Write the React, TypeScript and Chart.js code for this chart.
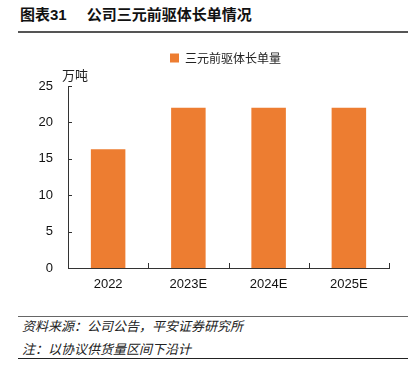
import React, { useEffect, useRef } from "react";
import { Chart, registerables } from "chart.js";

Chart.register(...registerables);

const categories = ["2022", "2023E", "2024E", "2025E"];
const seriesName = "三元前驱体长单量";
const values = [16.3, 22, 22, 22];
const yTicks = [0, 5, 10, 15, 20, 25];
const unitLabel = "万吨";
const titleNo = "图表31";
const titleText = "公司三元前驱体长单情况";
const sourceText = "资料来源：公司公告，平安证券研究所";
const noteText = "注：以协议供货量区间下沿计";

const ORANGE = "#ED7D31";
const AXIS = "#333333";
const FONT = "'Liberation Sans', Arial, 'Noto Sans CJK SC', sans-serif";

const extras = {
  id: "extras",
  afterInit(chart: any) {
    const lg = chart.legend;
    if (lg && !lg.__patched) {
      const origFit = lg.fit.bind(lg);
      lg.fit = function () {
        origFit();
        this.height += 12;
      };
      const origDraw = lg.draw.bind(lg);
      lg.draw = function () {
        const c = this.ctx;
        c.save();
        c.translate(31, 0);
        origDraw();
        c.restore();
      };
      lg.__patched = true;
    }
  },
  afterDraw(chart: any) {
    const { ctx, chartArea } = chart;
    const xs = chart.scales.x;
    const ys = chart.scales.y;
    ctx.save();
    ctx.strokeStyle = AXIS;
    ctx.lineWidth = 1;
    for (const v of yTicks) {
      const y = Math.round(ys.getPixelForValue(v)) + 0.5;
      ctx.beginPath();
      ctx.moveTo(chartArea.left, y);
      ctx.lineTo(chartArea.left + 4, y);
      ctx.stroke();
    }
    for (let i = 0; i <= categories.length; i++) {
      const x = Math.round(xs.getPixelForValue(i - 0.5)) + 0.5;
      ctx.beginPath();
      ctx.moveTo(x, chartArea.bottom);
      ctx.lineTo(x, chartArea.bottom - 5);
      ctx.stroke();
    }
    ctx.fillStyle = "#222";
    ctx.font = "13px 'Noto Sans CJK SC', sans-serif";
    ctx.textAlign = "left";
    ctx.textBaseline = "middle";
    ctx.fillText(unitLabel, chartArea.left - 6, chartArea.top - 11);
    ctx.restore();
  },
};

export default function App() {
  const ref = useRef<HTMLCanvasElement>(null);
  useEffect(() => {
    if (!ref.current) return;
    const chart = new Chart(ref.current, {
      type: "bar",
      data: {
        labels: categories,
        datasets: [
          {
            label: seriesName,
            data: values,
            backgroundColor: ORANGE,
            borderWidth: 0,
            categoryPercentage: 1,
            barPercentage: 0.43,
          },
        ],
      },
      options: {
        animation: false,
        responsive: false,
        maintainAspectRatio: false,
        layout: { padding: { left: 0, right: 28, top: 0, bottom: 0 } },
        plugins: {
          tooltip: { enabled: false },
          legend: {
            display: true,
            position: "top",
            labels: {
              boxWidth: 9,
              boxHeight: 9,
              color: "#222",
              padding: 19,
              font: { size: 12, family: "'Noto Sans CJK SC', sans-serif" },
            },
          },
        },
        scales: {
          x: {
            grid: { display: false, drawTicks: false },
            border: { display: true, color: AXIS, width: 1 },
            ticks: {
              color: "#111",
              padding: 9,
              font: { size: 13, family: FONT },
            },
            afterFit: (s: any) => {
              s.height = 32;
            },
          },
          y: {
            min: 0,
            max: 25,
            grid: { display: false, drawTicks: false },
            border: { display: true, color: AXIS, width: 1 },
            ticks: {
              stepSize: 5,
              color: "#111",
              padding: 15,
              font: { size: 13, family: FONT },
            },
            afterFit: (s: any) => {
              s.width = 68;
            },
          },
        },
      },
      plugins: [extras],
    });
    return () => chart.destroy();
  }, []);

  return (
    <div
      style={{
        position: "fixed",
        left: 0,
        top: 0,
        width: 417,
        height: 367,
        background: "#fff",
        fontFamily: "'Noto Sans CJK SC', sans-serif",
      }}
    >
      <div
        style={{
          position: "absolute",
          left: 20,
          top: 4,
          fontSize: 15,
          fontWeight: "bold",
          color: "#111",
          lineHeight: "20px",
          whiteSpace: "nowrap",
        }}
      >
        <span style={{ fontFamily: FONT }}>{titleNo}</span>
        <span style={{ marginLeft: 20 }}>{titleText}</span>
      </div>
      <div
        style={{
          position: "absolute",
          left: 18,
          top: 31,
          width: 390,
          height: 2,
          background: "#555",
        }}
      />
      <canvas
        ref={ref}
        width={417}
        height={267}
        style={{ position: "absolute", left: 0, top: 33, width: 417, height: 267 }}
      />
      <div
        style={{
          position: "absolute",
          left: 18,
          top: 316,
          width: 390,
          height: 1,
          background: "#666",
        }}
      />
      <div
        style={{
          position: "absolute",
          left: 22,
          top: 317,
          fontSize: 13,
          fontStyle: "italic",
          color: "#222",
          lineHeight: "18px",
          whiteSpace: "nowrap",
        }}
      >
        {sourceText}
      </div>
      <div
        style={{
          position: "absolute",
          left: 22,
          top: 340,
          fontSize: 13,
          fontStyle: "italic",
          color: "#222",
          lineHeight: "18px",
          whiteSpace: "nowrap",
        }}
      >
        {noteText}
      </div>
      <div
        style={{
          position: "absolute",
          left: 18,
          top: 358,
          width: 390,
          height: 1,
          background: "#222",
        }}
      />
    </div>
  );
}
